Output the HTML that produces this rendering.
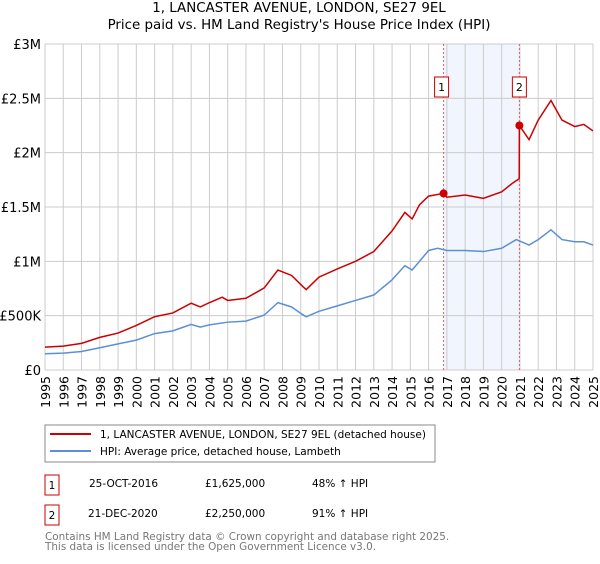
<!DOCTYPE html>
<html><head><meta charset="utf-8"><style>
body{margin:0;background:#fff;font-family:"DejaVu Sans","Liberation Sans",sans-serif;}
svg text{font-family:"DejaVu Sans","Liberation Sans",sans-serif;}
</style></head><body>
<svg id="c" width="600" height="560" xmlns="http://www.w3.org/2000/svg">
<text x="299" y="12" text-anchor="middle" font-size="13.4">1, LANCASTER AVENUE, LONDON, SE27 9EL</text>
<text x="299" y="29" text-anchor="middle" font-size="13.4">Price paid vs. HM Land Registry's House Price Index (HPI)</text>
<g id="grid"></g><g id="series"></g>
<rect x="45" y="425" width="390" height="37" fill="#fff" stroke="#888"/>
<line x1="50" y1="434" x2="91" y2="434" stroke="#cc0000" stroke-width="2"/>
<text x="100" y="438" font-size="10.5">1, LANCASTER AVENUE, LONDON, SE27 9EL (detached house)</text>
<line x1="50" y1="451" x2="91" y2="451" stroke="#5b8fd6" stroke-width="2"/>
<text x="100" y="455" font-size="10.5">HPI: Average price, detached house, Lambeth</text>
<g font-size="10.5">
<rect x="45" y="475" width="14" height="20" fill="none" stroke="#c00"/><text x="52" y="489" text-anchor="middle">1</text>
<text x="89" y="487">25-OCT-2016</text><text x="205" y="487">£1,625,000</text><text x="312" y="487">48% ↑ HPI</text>
<rect x="45" y="505" width="14" height="20" fill="none" stroke="#c00"/><text x="52" y="519" text-anchor="middle">2</text>
<text x="88" y="517">21-DEC-2020</text><text x="205" y="517">£2,250,000</text><text x="312" y="517">91% ↑ HPI</text>
</g>
<text x="45" y="540" font-size="10.4" fill="#777">Contains HM Land Registry data © Crown copyright and database right 2025.</text>
<text x="45" y="550" font-size="10.4" fill="#777">This data is licensed under the Open Government Licence v3.0.</text>
</svg>
<script>
const yTicks=[0,500000,1000000,1500000,2000000,2500000,3000000];
const yTickLabels=["£0","£500K","£1M","£1.5M","£2M","£2.5M","£3M"];
const years=[1995,1996,1997,1998,1999,2000,2001,2002,2003,2004,2005,2006,2007,2008,2009,2010,2011,2012,2013,2014,2015,2016,2017,2018,2019,2020,2021,2022,2023,2024,2025];
const hpiT=[1995,1996,1997,1998,1999,2000,2001,2002,2003,2003.5,2004,2005,2006,2007,2007.75,2008.5,2009.1,2009.3,2010,2011,2012,2013,2014,2014.7,2015.1,2015.5,2016,2016.5,2017,2018,2019,2020,2020.8,2021.5,2022,2022.7,2023.3,2024,2024.5,2025];
const hpiV=[150,155,170,205,240,275,335,360,420,395,415,440,450,505,620,580,510,490,540,590,640,690,830,960,920,1000,1100,1120,1100,1100,1090,1120,1200,1150,1200,1290,1200,1180,1180,1150];
const propT=[1995,1996,1997,1998,1999,2000,2001,2002,2003,2003.5,2004,2004.7,2005,2006,2007,2007.75,2008.5,2009.1,2009.3,2010,2011,2012,2013,2014,2014.7,2015.1,2015.5,2016,2016.82,2017,2018,2019,2020,2020.6,2020.96,2020.97,2021.5,2022,2022.7,2023.3,2024,2024.5,2025];
const propV=[210,220,245,300,340,410,490,525,615,580,620,670,640,660,755,920,870,770,740,855,930,1000,1090,1280,1450,1390,1520,1600,1625,1590,1610,1580,1640,1720,1760,2250,2120,2300,2480,2300,2240,2260,2200];
const saleT=[2016.82,2020.97];
const saleV=[1625,2250];
const saleLabels=["1","2"];
const X0=45,X1=593,Y0=370,Y1=44;
const xs=t=>X0+(t-1995)/30*(X1-X0);
const ys=v=>Y0-v/3000000*(Y0-Y1);
const NS="http://www.w3.org/2000/svg";
function mk(tag,attrs,parent){const e=document.createElementNS(NS,tag);for(const k in attrs)e.setAttribute(k,attrs[k]);parent.appendChild(e);return e;}
const grid=document.getElementById('grid'),ser=document.getElementById('series');
let r=mk('rect',{x:xs(saleT[0]),y:Y1,width:xs(saleT[1])-xs(saleT[0]),height:Y0-Y1,fill:'#eef3fc',opacity:0.8},grid);


yTicks.forEach((v,i)=>{
 const l=mk('line',{x1:X0,x2:X1,y1:ys(v),y2:ys(v),stroke:'#ccc'},grid);
 
 
 const t=mk('text',{x:X0-4,y:ys(v)+5,'text-anchor':'end','font-size':13},grid);t.textContent=yTickLabels[i];
 
 
});
years.forEach(y=>{
 const l=mk('line',{x1:xs(y),x2:xs(y),y1:Y1,y2:Y0,stroke:'#ccc'},grid);
 
 
 const t=mk('text',{x:0,y:0,'text-anchor':'end','font-size':12.5,transform:`translate(${xs(y)+5},${Y0+6}) rotate(-90)`},grid);t.textContent=y;
 
 
});
saleT.forEach((t,i)=>{
 const l=mk('line',{x1:xs(t),x2:xs(t),y1:Y1,y2:Y0,stroke:'#e06060','stroke-dasharray':'2,2'},grid);
 
 
 const bx=xs(t)-(i==0?9:7);
 const b=mk('rect',{x:bx,y:77,width:14,height:20,fill:'#fff',stroke:'#c00'},grid);
 
 
 const tx=mk('text',{x:bx+7,y:91,'text-anchor':'middle','font-size':11},grid);tx.textContent=saleLabels[i];
 
 
});
const p1=mk('polyline',{points:hpiT.map((t,i)=>xs(t)+','+ys(hpiV[i]*1000)).join(' '),fill:'none',stroke:'#5b8fd6','stroke-width':1.5},ser);


const p2=mk('polyline',{points:propT.map((t,i)=>xs(t)+','+ys(propV[i]*1000)).join(' '),fill:'none',stroke:'#cc0000','stroke-width':1.5},ser);


saleT.forEach((t,i)=>{
 const c=mk('circle',{cx:xs(t),cy:ys(saleV[i]*1000),r:4,fill:'#cc0000'},ser);
 
 
});
</script>
</body></html>
